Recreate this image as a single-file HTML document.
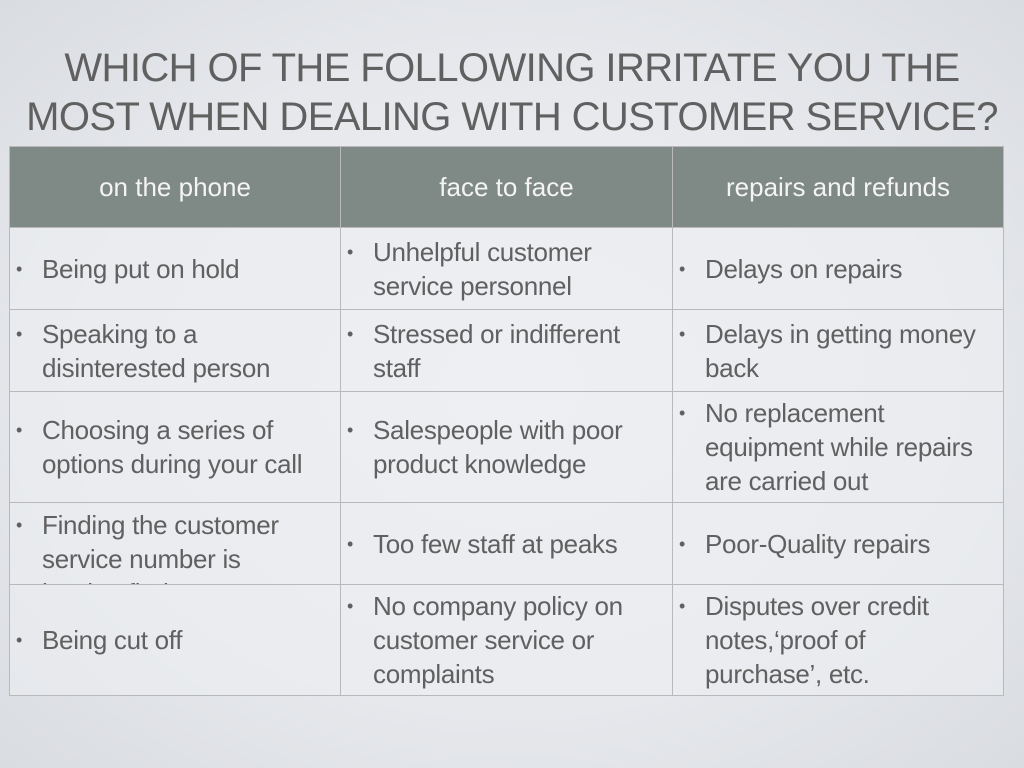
<!DOCTYPE html>
<html><head><meta charset="utf-8"><style>
body{margin:0;width:1024px;height:768px;overflow:hidden;background:radial-gradient(ellipse at center,#eef0f4 0%,#e6e8ec 60%,#d9dce1 100%);font-family:"Liberation Sans",sans-serif;color:#606060;}
.t{position:absolute;left:0;width:1024px;top:44px;text-align:center;font-size:40px;line-height:49px;color:#606060;letter-spacing:-0.6px;}
.c{position:absolute;box-sizing:border-box;border:1px solid #b9b9b9;display:flex;align-items:center;overflow:hidden;background:rgba(236,238,242,0.6);}
.h{background:#7f8985;color:#f4f4f4;justify-content:center;font-size:26px;border-color:#b9b9b9;}
.b{font-size:26px;line-height:34px;padding-left:32px;position:relative;white-space:nowrap;letter-spacing:-0.3px;}
.b:before{content:"•";position:absolute;left:6px;top:0;font-size:18px;}
</style></head><body>
<div class="t">WHICH OF THE FOLLOWING IRRITATE YOU THE<br>MOST WHEN DEALING WITH CUSTOMER SERVICE?</div>

<div class="c h" style="left:9px;top:146px;width:332px;height:82px">on the phone</div>
<div class="c h" style="left:340px;top:146px;width:333px;height:82px">face to face</div>
<div class="c h" style="left:672px;top:146px;width:332px;height:82px">repairs and refunds</div>

<div class="c" style="left:9px;top:227px;width:332px;height:83px"><div class="b">Being put on hold</div></div>
<div class="c" style="left:340px;top:227px;width:333px;height:83px"><div class="b">Unhelpful customer<br>service personnel</div></div>
<div class="c" style="left:672px;top:227px;width:332px;height:83px"><div class="b">Delays on repairs</div></div>

<div class="c" style="left:9px;top:309px;width:332px;height:83px"><div class="b">Speaking to a<br>disinterested person</div></div>
<div class="c" style="left:340px;top:309px;width:333px;height:83px"><div class="b">Stressed or indifferent<br>staff</div></div>
<div class="c" style="left:672px;top:309px;width:332px;height:83px"><div class="b">Delays in getting money<br>back</div></div>

<div class="c" style="left:9px;top:391px;width:332px;height:112px"><div class="b">Choosing a series of<br>options during your call</div></div>
<div class="c" style="left:340px;top:391px;width:333px;height:112px"><div class="b">Salespeople with poor<br>product knowledge</div></div>
<div class="c" style="left:672px;top:391px;width:332px;height:112px"><div class="b">No replacement<br>equipment while repairs<br>are carried out</div></div>

<div class="c" style="left:9px;top:502px;width:332px;height:83px;align-items:flex-start"><div class="b" style="margin-top:5px">Finding the customer<br>service number is<br>hard to find</div></div>
<div class="c" style="left:340px;top:502px;width:333px;height:83px"><div class="b">Too few staff at peaks</div></div>
<div class="c" style="left:672px;top:502px;width:332px;height:83px"><div class="b">Poor-Quality repairs</div></div>

<div class="c" style="left:9px;top:584px;width:332px;height:112px"><div class="b">Being cut off</div></div>
<div class="c" style="left:340px;top:584px;width:333px;height:112px"><div class="b">No company policy on<br>customer service or<br>complaints</div></div>
<div class="c" style="left:672px;top:584px;width:332px;height:112px"><div class="b">Disputes over credit<br>notes,‘proof of<br>purchase’, etc.</div></div>
</body></html>
